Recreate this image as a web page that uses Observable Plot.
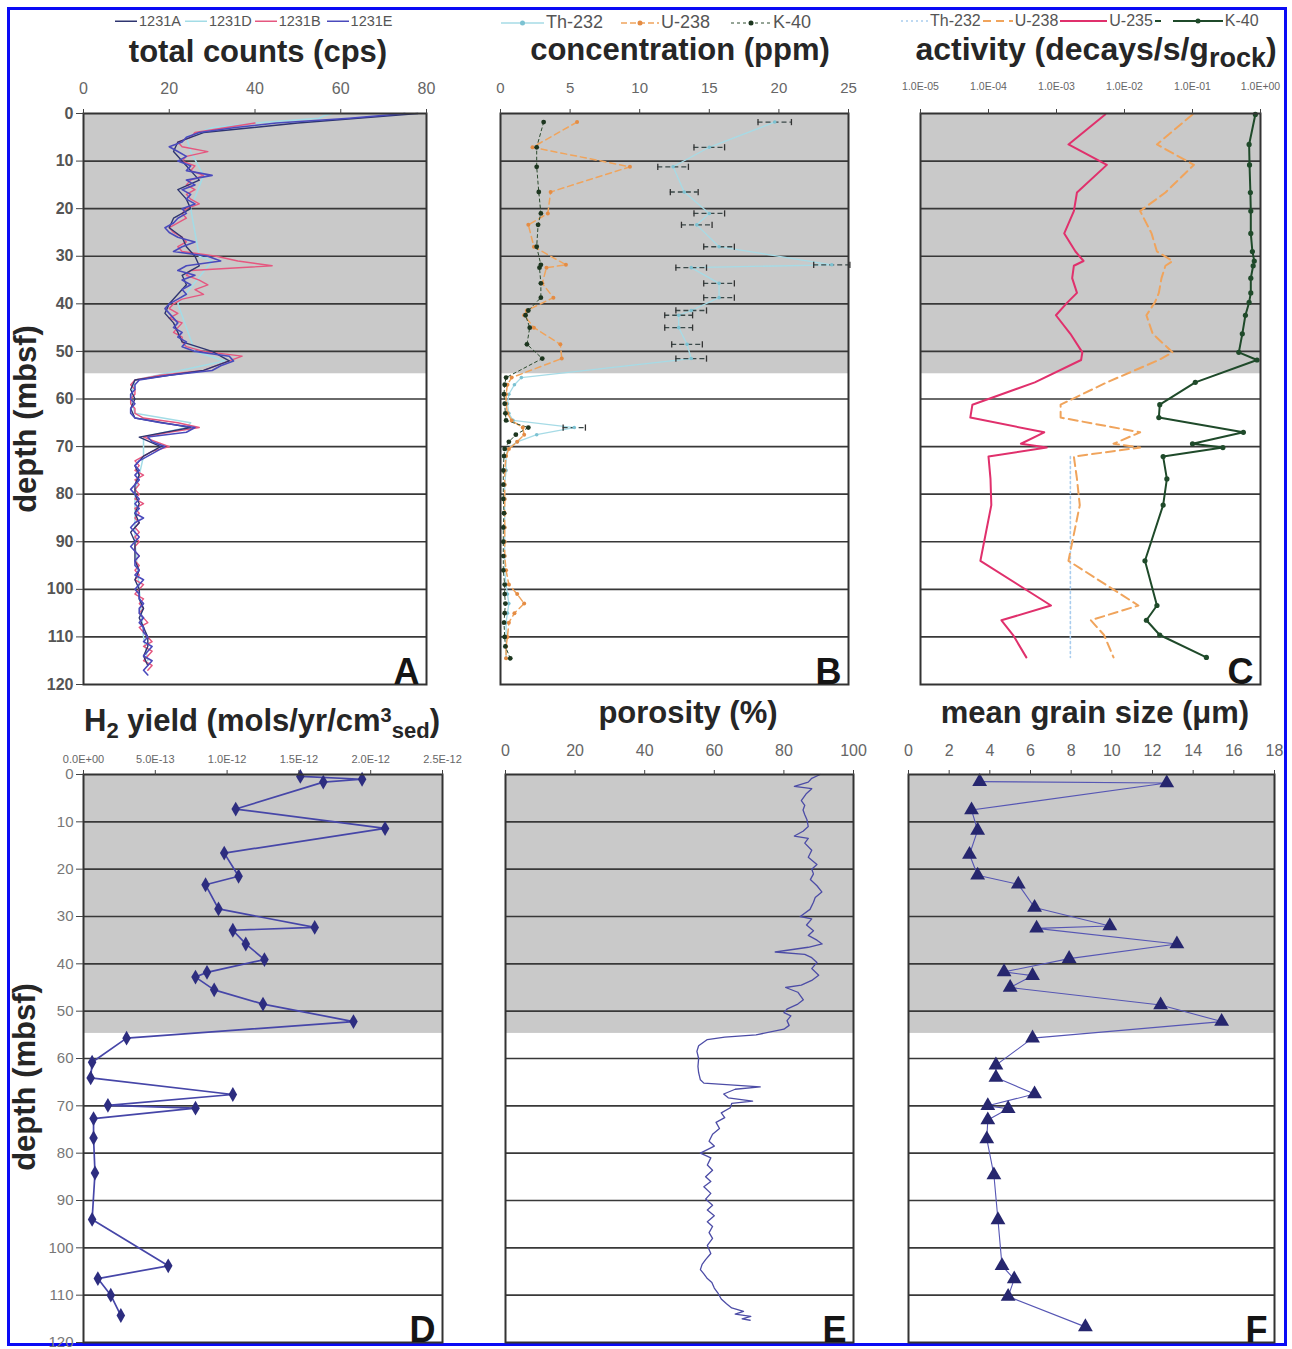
<!DOCTYPE html>
<html>
<head>
<meta charset="utf-8">
<script src="https://cdn.jsdelivr.net/npm/d3@7"></script>
<script src="https://cdn.jsdelivr.net/npm/@observablehq/plot@0.6"></script>
<style>
html,body{margin:0;padding:0;background:#fff;}
#page{position:relative;width:1292px;height:1349px;overflow:hidden;background:#fff;font-family:"Liberation Sans",Arial,Helvetica,sans-serif;}
#border{position:absolute;left:7px;top:7px;width:1274px;height:1333px;border:3px solid #0b0bf5;}
.title{position:absolute;font-weight:bold;font-size:31px;line-height:31px;color:#262626;white-space:nowrap;transform:translateX(-50%);}
.title sub{font-size:22px;vertical-align:-7px;line-height:0;}
.title sup{font-size:20px;vertical-align:9px;line-height:0;}
.ylab{position:absolute;font-weight:bold;font-size:31px;line-height:31px;color:#262626;white-space:nowrap;transform:translate(-50%,-50%) rotate(-90deg);}
.legend{position:absolute;display:flex;align-items:center;white-space:nowrap;color:#555;}
</style>
</head>
<body>
<div id="page">
  <div id="border"></div>
  <div class="title" style="left:258px;top:36px">total counts (cps)</div>
  <div class="title" style="left:680px;top:34px">concentration (ppm)</div>
  <div class="title" style="left:1096px;top:34px;font-size:32px">activity (decays/s/g<sub style="font-size:27px">rock</sub>)</div>
  <div class="title" style="left:262px;top:705px">H<sub>2</sub> yield (mols/yr/cm<sup>3</sup><sub>sed</sub>)</div>
  <div class="title" style="left:688px;top:697px">porosity (%)</div>
  <div class="title" style="left:1095px;top:697px">mean grain size (μm)</div>
  <div class="ylab" style="left:25px;top:419px">depth (mbsf)</div>
  <div class="ylab" style="left:24px;top:1077px">depth (mbsf)</div>
</div>
<script>
// ---------- shared ----------
const grayDepth = 54.7;
const gridDepths = [10, 20, 30, 40, 50, 60, 70, 80, 90, 100, 110];
const depthTicks = [0, 10, 20, 30, 40, 50, 60, 70, 80, 90, 100, 110, 120];

// ---------- Panel A: total counts (cps) ----------
const holesA = ["1231A", "1231D", "1231B", "1231E"];
const ticksA = [0, 20, 40, 60, 80];
const depth1231E = [0,1,2,3,4,5,6,7,8,9,10,11,12,13,14,15,16,17,18,19,20,21,22,23,24,25,26,27,28,29,30,31,32,33,34,35,36,37,38,39,40,41,42,43,44,45,46,47,48,49,50,51,52,53,54,55,56,57,58,59,60,61,62,63,64,65,66,67,68,69,70,71,72,73,74,75,76,77,78,79,80,81,82,83,84,85,86,87,88,89,90,91,92,93,94,95,96,97,98,99,100,101,102,103,104,105,106,107,108,109,110,111,112,113,114,115,116,117,118];
const cps1231E = [75,62,45,35,27,24,23,20,22,24, 22,25,24,30,24,26,23,25,24,26, 23,24,22,21,19,20,22,26,23,21, 29,32,24,22,26,23,25,23,24,22, 20,19,20,21,22,21,23,22,24,23, 26,34,35,32,30,20,13,12,12,11, 11,12,11,11,12,18,26,24,15,16, 19,17,15,13,12,13,12,13,12,11, 12,13,12,13,12,14,12,11,12,13, 12,11,12,13,12,12,13,12,14,13, 12,13,13,14,13,13,14,13,14,14, 15,14,16,15,14,16,15,14,15];
const depth1231B = [2,3,4,5,6,7,8,9,10,11,12,13,14,15,16,17,18,19,20,21,22,23,24,25,26,27,28,29,30,31,32,33,34,35,36,37,38,39,40,41,42,43,44,45,46,47,48,49,50,51,52,53,54,55,56,57,58,59,60,61,62,63,64,65,66,67,68,69,70,71,72,73,74,75,76,77,78,79,80,81,82,83,84,85,86,87,88,89,90,91,92,93,94,95,96,97,98,99,100,101,102,103,104,105,106,107,108,109,110,111,112,113,114,115,116,117];
const cps1231B = [40,33,26,25,22,23,29,24, 23,26,25,28,25,24,26,24,25,27, 24,23,24,22,20,21,23,24,22,23, 31,36,44,25,24,27,29,26,28,23, 21,20,22,20,23,22,21,23,23,24, 28,37,34,31,28,18,12,11,12,12, 11,11,12,12,14,22,27,20,14,17, 20,16,14,12,13,12,14,12,13,12, 13,12,14,12,13,12,13,12,13,12, 13,12,12,13,12,13,12,13,12,14, 13,12,14,13,14,13,14,15,13,14, 15,16,14,16,15,14,16,15];
const depth1231A = [0,2,4,6,8,10,12,14,16,18,20,22,24,26,28,30,32,34,36,38,40,42,44,46,48,50,52,54,56,58,60,62,64,66,68,70,72,74,76,78,80,82,84,86,88,90,92,94,96,98,100,102,104,106,108,110,112,114,116];
const cps1231A = [78,50,28,22,21,23,25,27,22,24, 25,21,20,23,24,26,27,23,24,22, 20,19,21,22,23,30,34,28,12,11, 12,11,12,25,13,18,14,12,13,12, 12,13,12,13,11,12,12,12,13,12, 13,13,14,13,14,15,15,14,15];
const depth1231D = [0,0.5,1,2,3,5,8,13,20,30,31,40,50,52,56,60,63,65,66,68,72,80,90,100,110,115];
const cps1231D = [58,56,55,40,30,24,25,28,25,27,30,22,26,33,12,11,12,25,24,14,14,12,12,13,14,15];

// ---------- Panel B: concentration (ppm) ----------
const isotopesB = ["Th-232", "U-238", "K-40"];
const ticksB = [0, 5, 10, 15, 20, 25];
const depthB = [1.8,7.1,11.2,16.5,21,23.4,28,31.8,32.4,35.7,38.7,41.4,42.4,45,48.5,51.5,55.5,57,59,61,63,64.5,66,67.5,69,70.5,72,75,78,81,84,87,90,93,96,99,101,103,105,107,110,112,114.5];
const thB = [19.7,15.0,12.4,13.2,15.0,14.1,15.7,23.8,13.7,15.7,15.7,13.7,12.8,12.8,13.4,13.7,1.5,1.0,0.6,0.5,0.6,0.9,5.3,2.6,1.2,0.5,0.4,0.4,0.3,0.3,0.3,0.3,0.3,0.3,0.3,0.4,0.5,0.6,0.5,0.4,0.4,0.4,0.4];
const thErrB = [1.2,1.1,1.1,1.0,1.1,1.1,1.1,1.3,1.1,1.1,1.1,1.1,1.0,1.0,1.1,1.1,0,0,0,0,0,0,0.8,0,0,0,0,0,0,0,0,0,0,0,0,0,0,0,0,0,0,0,0];
const uB = [5.5,2.3,9.3,3.6,3.4,2.0,2.4,4.7,3.3,3.0,3.8,1.9,1.7,2.4,4.3,4.4,0.8,0.5,0.4,0.4,0.5,0.8,1.6,1.7,1.2,0.6,0.4,0.3,0.3,0.3,0.3,0.3,0.3,0.3,0.4,0.6,1.2,1.7,1.0,0.6,0.5,0.4,0.4];
const kB = [3.1,2.6,2.6,2.75,2.9,2.7,2.6,2.9,2.8,2.9,2.9,2.0,1.8,2.1,1.9,3.0,0.4,0.3,0.25,0.3,0.35,0.4,2.0,1.1,0.6,0.3,0.25,0.2,0.2,0.2,0.25,0.2,0.2,0.2,0.2,0.3,0.3,0.35,0.3,0.25,0.3,0.35,0.7];

// ---------- Panel C: activity (decays/s/g rock) ----------
const isotopesC = ["Th-232", "U-238", "U-235", "K-40"];
const ticksC = [1e-5, 1e-4, 1e-3, 1e-2, 1e-1, 1];
const tickLabelsC = ["1.0E-05", "1.0E-04", "1.0E-03", "1.0E-02", "1.0E-01", "1.0E+00"];
const depthC = [0.2,6.5,10.8,16.6,20.5,25.2,29,31,32,34.6,37.7,39.7,42.4,46.3,50.2,51.8,56.5,61.2,63.9,67,69.4,70.2,72.1,76.8,82.3,94,103.4,106.5,109.6,114.3];
const u235C = [5.2e-3,1.5e-3,5.5e-3,2.0e-3,1.8e-3,1.3e-3,1.9e-3,2.5e-3,1.8e-3,1.7e-3,2.0e-3,1.45e-3,9.8e-4,1.6e-3,2.4e-3,2.3e-3,4.8e-4,5.8e-5,5.4e-5,6.6e-4,3.0e-4,7.2e-4,1.0e-4,1.07e-4,1.1e-4,7.6e-5,8.3e-4,1.55e-4,2.3e-4,3.6e-4];
const u238C = [0.10,0.030,0.105,0.040,0.017,0.025,0.030,0.051,0.040,0.035,0.032,0.028,0.021,0.026,0.051,0.032,0.0055,0.00115,0.00115,0.017,0.0069,0.017,0.0018,0.0020,0.0022,0.0015,0.016,0.0032,0.0050,0.0069];
const k40C = [0.84,0.68,0.69,0.71,0.72,0.72,0.76,0.81,0.78,0.72,0.72,0.68,0.60,0.54,0.48,0.89,0.11,0.033,0.032,0.56,0.10,0.28,0.037,0.042,0.037,0.020,0.030,0.021,0.033,0.16];
const th232C = [null,null,null,null,null,null,null,null,null,null,null,null,null,null,null,null,null,null,null,null,null,null,0.0016,0.0016,0.0016,0.0016,0.0016,0.0016,0.0016,0.0016];

// ---------- Panel D: H2 yield ----------
const ticksD = [0, 5e-13, 1e-12, 1.5e-12, 2e-12, 2.5e-12];
const tickLabelsD = ["0.0E+00", "5.0E-13", "1.0E-12", "1.5E-12", "2.0E-12", "2.5E-12"];
const depthD = [0.4,1.0,1.6,7.3,11.4,16.6,21.5,23.3,28.4,32.3,32.9,35.8,39.1,41.8,42.8,45.5,48.5,52.2,55.7,60.8,64.1,67.6,69.9,70.5,72.7,76.8,84.2,94,103.8,106.5,110,114.3];
const h2D = [1.51e-12,1.94e-12,1.67e-12,1.06e-12,2.10e-12,0.98e-12,1.08e-12,0.85e-12,0.94e-12,1.61e-12,1.04e-12,1.13e-12,1.26e-12,0.86e-12,0.78e-12,0.91e-12,1.25e-12,1.88e-12,0.30e-12,0.06e-12,0.05e-12,1.04e-12,0.17e-12,0.78e-12,0.07e-12,0.07e-12,0.08e-12,0.06e-12,0.59e-12,0.10e-12,0.19e-12,0.26e-12];

// ---------- Panel E: porosity ----------
const ticksE = [0, 20, 40, 60, 80, 100];
const depthPor = [0,0.8,1.6,2.5,3,4,5.5,6.5,7.5,8.5,9.5,11,12,13,13.5,14.5,16,17.5,19,20,21,22.2,23.5,24.8,26,27,28.5,30,30.5,31.8,33,34,35,35.8,36.5,37.5,38,38.7,39.7,41,42.4,43.5,44.5,45,46,47.6,48.5,49.5,50.3,51,52,53,53.8,55,55.5,56,57.3,58.5,60,61.7,63,64.5,65.2,66,66.5,67.5,68.3,69,69.5,70.4,71.5,72.5,73.5,74.8,76,77.5,78.5,80,81,82.5,83.6,85,86,87.1,88.5,89.7,91,92,93.2,94.5,95.5,96.8,98,99.5,101.2,102.5,103.5,104.6,105.5,106.5,107.3,108.5,109.5,110.8,111.8,112.7,113.4,114,114.5,115,115.3];
const porosity = [90.4,88,87,83,88,86.5,85,86,85.5,86,86.6,87,85.5,83,87,86,88,87,89.5,88,88.5,87.6,89.5,90.9,89,88.5,87.5,84.7,88,86.5,88.5,87,89.5,91,87,77.5,86,88,89.5,88,90,88,85,80.5,84,85.6,84,81,80,82,80.9,81.5,80,72,63,58,55.5,55,55.5,55.3,55.5,56,57,73.2,66,62.7,64,71,65,64.6,62,63,60.5,61.5,59.5,58.5,60,56,59,58,59.5,57.5,59,57,59,57.5,59.5,58,60,58,59.5,58.5,59.5,58,59,57.5,56.5,56,57,58,59.3,60,61,62,63.5,65,68.4,66,70.5,68,70.3];

// ---------- Panel F: mean grain size ----------
const ticksF = [0, 2, 4, 6, 8, 10, 12, 14, 16, 18];
const depthF = [1.5,1.8,7.5,11.8,16.9,21.3,23.2,28.1,32,32.5,35.8,38.9,41.7,42.5,45,48.7,52.2,55.7,61.4,64,67.5,70,70.6,73,77,84.6,94.1,103.8,106.6,110.3,116.7];
const grainF = [3.5,12.7,3.1,3.4,3.0,3.4,5.4,6.2,9.9,6.3,13.2,7.9,4.7,6.1,5.0,12.4,15.4,6.1,4.3,4.3,6.2,3.9,4.9,3.9,3.85,4.2,4.4,4.6,5.2,4.9,8.7];

// ---------- drawing ----------
const page = document.getElementById("page");
const FONT = "'Liberation Sans', Arial, Helvetica, sans-serif";

function addPanel({frame, x, marks, xTicks, xFormat, xFont, xPad, yAxis, yFont, yWeight, yFill, letter}) {
  const [fx0, fy0, fx1, fy1] = frame;
  const mL = yAxis ? 80 : 8, mR = 10, mT = 45, mB = 8;
  const chart = Plot.plot({
    width: fx1 - fx0 + mL + mR,
    height: fy1 - fy0 + mT + mB,
    marginLeft: mL, marginRight: mR, marginTop: mT, marginBottom: mB,
    x: {...x},
    y: yAxis ? {domain: [0, 120], reverse: true} : {domain: [0, 120], reverse: true, axis: null},
    style: {background: "transparent", fontFamily: FONT, overflow: "visible"},
    marks: [
      Plot.rect([{x1: x.domain[0], x2: x.domain[1], y1: 0, y2: grayDepth}], {x1: "x1", x2: "x2", y1: "y1", y2: "y2", fill: "#c9c9c9"}),
      Plot.ruleY(gridDepths, {stroke: "#383838", strokeWidth: 1.7}),
      ...marks,
      Plot.frame({stroke: "#333", strokeWidth: 2}),
      Plot.axisX(xTicks, {anchor: "top", tickFormat: xFormat, tickSize: 5, tickPadding: xPad, fontSize: xFont, fill: "#666", stroke: "#444", label: null}),
      yAxis ? Plot.axisY(depthTicks, {anchor: "left", tickSize: 7, tickPadding: 3, fontSize: yFont, fontWeight: yWeight, fill: yFill, stroke: "#444", label: null}) : null,
      Plot.text([letter], {text: d => d, frameAnchor: "bottom-right", dx: -7, dy: -1, fontSize: 36, fontWeight: "bold", fill: "#151515"})
    ]
  });
  chart.style.position = "absolute";
  chart.style.left = (fx0 - mL) + "px";
  chart.style.top = (fy0 - mT) + "px";
  page.appendChild(chart);
}

const rows = (depths, cols) => depths.map((d, i) => {
  const r = {d};
  for (const k in cols) r[k] = cols[k][i];
  return r;
});

// Panel A
const colorsA = {"1231A": "#2e3570", "1231D": "#a3dce6", "1231B": "#e5577f", "1231E": "#4a4abc"};
addPanel({
  frame: [83, 113, 426, 684],
  x: {type: "linear", domain: [0, 80]},
  xTicks: ticksA, xFormat: d => d, xFont: 16, xPad: 15,
  yAxis: true, yFont: 16, yWeight: "bold", yFill: "#555",
  letter: "A",
  marks: [
    Plot.line(rows(depth1231D, {v: cps1231D}), {x: "v", y: "d", stroke: colorsA["1231D"], strokeWidth: 1.5}),
    Plot.line(rows(depth1231B, {v: cps1231B}), {x: "v", y: "d", stroke: colorsA["1231B"], strokeWidth: 1.4}),
    Plot.line(rows(depth1231A, {v: cps1231A}), {x: "v", y: "d", stroke: colorsA["1231A"], strokeWidth: 1.4}),
    Plot.line(rows(depth1231E, {v: cps1231E}), {x: "v", y: "d", stroke: colorsA["1231E"], strokeWidth: 1.6})
  ]
});

// Panel B
const rowsB = rows(depthB, {th: thB, err: thErrB, u: uB, k: kB});
const errRows = rowsB.filter(r => r.err > 0);
const vbar = {draw(ctx, size) { const h = Math.sqrt(size) * 1.1; ctx.moveTo(0, -h / 2); ctx.lineTo(0, h / 2); }};
const colorsB = {"Th-232": "#a6dbe6", "U-238": "#f0a45c", "K-40": "#2c4a2e"};
addPanel({
  frame: [500, 113, 848, 684],
  x: {type: "linear", domain: [0, 25]},
  xTicks: ticksB, xFormat: d => d, xFont: 15, xPad: 16,
  yAxis: false, letter: "B",
  marks: [
    Plot.line(rowsB, {x: "th", y: "d", stroke: colorsB["Th-232"], strokeWidth: 1.3}),
    Plot.line(rowsB, {x: "u", y: "d", stroke: colorsB["U-238"], strokeWidth: 1.5, strokeDasharray: "6,4"}),
    Plot.line(rowsB, {x: "k", y: "d", stroke: colorsB["K-40"], strokeWidth: 1, strokeDasharray: "3,3"}),
    Plot.ruleY(errRows, {y: "d", x1: r => r.th - r.err, x2: r => r.th + r.err, stroke: "#3a4848", strokeWidth: 1.3, strokeDasharray: "5,3"}),
    Plot.dot(errRows, {x: r => r.th - r.err, y: "d", symbol: vbar, r: 3.2, stroke: "#333", strokeWidth: 1.3, fill: "none"}),
    Plot.dot(errRows, {x: r => r.th + r.err, y: "d", symbol: vbar, r: 3.2, stroke: "#333", strokeWidth: 1.3, fill: "none"}),
    Plot.dot(rowsB, {x: "th", y: "d", r: 1.8, fill: "#7cc2d2"}),
    Plot.dot(rowsB, {x: "u", y: "d", r: 2, fill: "#e48c44"}),
    Plot.dot(rowsB, {x: "k", y: "d", r: 2.4, fill: "#1d361f"})
  ]
});

// Panel C
const rowsC = rows(depthC, {th: th232C, u238: u238C, u235: u235C, k: k40C});
const colorsC = {"Th-232": "#a9cdee", "U-238": "#f0a45c", "U-235": "#e0306c", "K-40": "#1f4a2a"};
addPanel({
  frame: [920, 113, 1260, 684],
  x: {type: "log", domain: [1e-5, 1]},
  xTicks: ticksC, xFormat: d => tickLabelsC[ticksC.indexOf(d)], xFont: 10.5, xPad: 19,
  yAxis: false, letter: "C",
  marks: [
    Plot.line(rowsC, {x: "th", y: "d", stroke: colorsC["Th-232"], strokeWidth: 1.6, strokeDasharray: "2,3"}),
    Plot.line(rowsC, {x: "u238", y: "d", stroke: colorsC["U-238"], strokeWidth: 2, strokeDasharray: "9,5"}),
    Plot.line(rowsC, {x: "u235", y: "d", stroke: colorsC["U-235"], strokeWidth: 2}),
    Plot.line(rowsC, {x: "k", y: "d", stroke: colorsC["K-40"], strokeWidth: 2}),
    Plot.dot(rowsC, {x: "k", y: "d", r: 2.6, fill: colorsC["K-40"]})
  ]
});

// Panel D
const rowsD = rows(depthD, {v: h2D});
addPanel({
  frame: [83, 774, 442, 1342],
  x: {type: "linear", domain: [0, 2.5e-12]},
  xTicks: ticksD, xFormat: d => tickLabelsD[ticksD.indexOf(d)], xFont: 11, xPad: 7,
  yAxis: true, yFont: 15, yWeight: "normal", yFill: "#777",
  letter: "D",
  marks: [
    Plot.line(rowsD, {x: "v", y: "d", stroke: "#4646a8", strokeWidth: 1.7}),
    Plot.dot(rowsD, {x: "v", y: "d", symbol: "diamond", r: 4.5, fill: "#2d2d80"})
  ]
});

// Panel E
const rowsE = rows(depthPor, {v: porosity});
addPanel({
  frame: [505, 774, 853, 1342],
  x: {type: "linear", domain: [0, 100]},
  xTicks: ticksE, xFormat: d => d, xFont: 16, xPad: 14,
  yAxis: false, letter: "E",
  marks: [
    Plot.line(rowsE, {x: "v", y: "d", stroke: "#4c4ca6", strokeWidth: 1.3})
  ]
});

// Panel F
const rowsF = rows(depthF, {v: grainF});
addPanel({
  frame: [908, 774, 1274, 1342],
  x: {type: "linear", domain: [0, 18]},
  xTicks: ticksF, xFormat: d => d, xFont: 16, xPad: 14,
  yAxis: false, letter: "F",
  marks: [
    Plot.line(rowsF, {x: "v", y: "d", stroke: "#5656b4", strokeWidth: 1.1}),
    Plot.dot(rowsF, {x: "v", y: "d", symbol: "triangle", r: 5.5, fill: "#26266e"})
  ]
});

// ---------- legends ----------
function legend(left, cy, fontSize, items) {
  const div = document.createElement("div");
  div.className = "legend";
  div.style.left = left + "px";
  div.style.top = (cy - fontSize * 0.6) + "px";
  div.style.height = (fontSize * 1.2) + "px";
  div.style.fontSize = fontSize + "px";
  for (const it of items) {
    const h = fontSize;
    const dotX = it.dotX != null ? it.dotX : it.w / 2;
    const svg = `<svg width="${it.w}" height="${h}" style="margin-right:1px">` +
      `<line x1="1" x2="${it.w - 1}" y1="${h / 2}" y2="${h / 2}" stroke="${it.color}" stroke-width="${it.sw || 1.5}" ${it.dash ? `stroke-dasharray="${it.dash}"` : ""}/>` +
      (it.dot ? `<circle cx="${dotX}" cy="${h / 2}" r="${it.r || 2.5}" fill="${it.dot}"/>` : "") + `</svg>`;
    div.insertAdjacentHTML("beforeend", svg + `<span style="margin-right:${it.gap}px">${it.label}</span>`);
  }
  page.appendChild(div);
}

legend(114, 21, 14.5, [
  {label: holesA[0], color: colorsA["1231A"], w: 24, gap: 3},
  {label: holesA[1], color: colorsA["1231D"], w: 24, gap: 2},
  {label: holesA[2], color: colorsA["1231B"], w: 24, gap: 5},
  {label: holesA[3], color: colorsA["1231E"], w: 24, gap: 0}
]);
legend(500, 23, 18, [
  {label: isotopesB[0], color: colorsB["Th-232"], dot: "#7cc2d2", w: 45, gap: 17},
  {label: isotopesB[1], color: colorsB["U-238"], dash: "6,3", dot: "#e48c44", w: 40, gap: 20},
  {label: isotopesB[2], color: colorsB["K-40"], dash: "3,3", sw: 1, dot: "#1d361f", w: 42, gap: 0}
]);
legend(900, 21, 16, [
  {label: isotopesC[0], color: colorsC["Th-232"], dash: "2,3", w: 29, gap: 1},
  {label: isotopesC[1], color: colorsC["U-238"], dash: "8,5", sw: 2, w: 32, gap: 1},
  {label: isotopesC[2], color: colorsC["U-235"], sw: 2, w: 49, gap: 1},
  {label: isotopesC[3], color: colorsC["K-40"], sw: 2, dash: "6,12,60", dot: colorsC["K-40"], dotX: 44, w: 70, gap: 0}
]);
</script>
</body>
</html>
